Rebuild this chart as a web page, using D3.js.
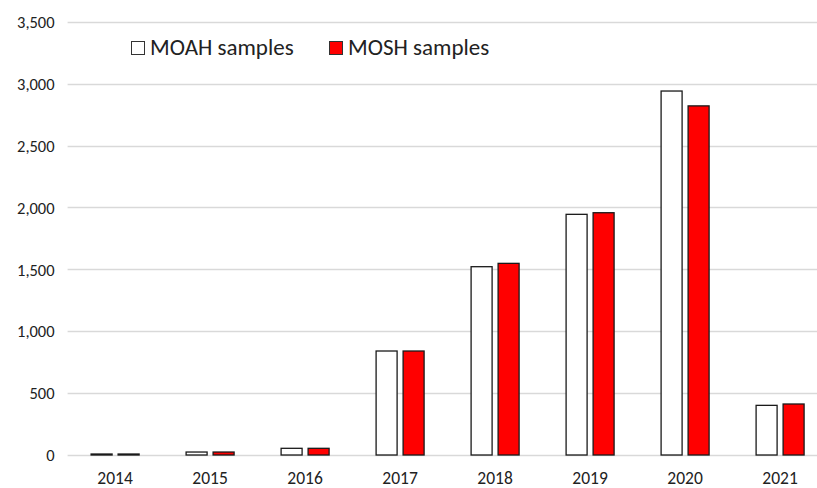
<!DOCTYPE html>
<html>
<head>
<meta charset="utf-8">
<script src="https://cdn.jsdelivr.net/npm/d3@7"></script>
<style>
  body { margin: 0; background: #fff; }
  text { font-family: Calibri, Carlito, Lato, "Open Sans", sans-serif; fill: #222; }
</style>
</head>
<body>
<div id="chart"></div>
<script>
// data
let years = ['2014', '2015', '2016', '2017', '2018', '2019', '2020', '2021'];
let moah_samples = [8, 24, 54, 840, 1521, 1944, 2940, 401];
let mosh_samples = [8, 24, 54, 840, 1548, 1957, 2820, 412];
let y_ticks = [0, 500, 1000, 1500, 2000, 2500, 3000, 3500];
let series = ['MOAH samples', 'MOSH samples'];
let colors = ['#ffffff', '#ff0000'];

let svg_width = 817;
let svg_height = 488;

let margin = { top: 21.7, left: 67.6, bottom: 33 };
let band = 95;

let svg = d3.select('#chart').append('svg')
  .attr('width', svg_width)
  .attr('height', svg_height);

let x = d3.scaleBand()
  .domain(years)
  .range([margin.left, margin.left + band * years.length])
  .padding(0);

let xInner = d3.scaleBand()
  .domain(series)
  .range([(band - 48) / 2, (band + 48) / 2])
  .paddingInner(6 / 27)
  .paddingOuter(0);

let y = d3.scaleLinear()
  .domain([0, 3500])
  .range([svg_height - margin.bottom, margin.top]);

// gridlines
svg.append('g')
  .selectAll('line')
  .data(y_ticks)
  .enter()
  .append('line')
  .attr('x1', margin.left)
  .attr('x2', svg_width)
  .attr('y1', d => Math.round(y(d)) + 0.5)
  .attr('y2', d => Math.round(y(d)) + 0.5)
  .attr('stroke', '#d9d9d9')
  .attr('stroke-width', 1.3);

// y axis labels
let yAxis = svg.append('g')
  .attr('transform', `translate(${margin.left - 13}, 0)`)
  .call(d3.axisLeft(y).tickValues(y_ticks).tickSize(0).tickFormat(d3.format(',')));
yAxis.select('.domain').remove();
yAxis.selectAll('text')
  .attr('x', 0)
  .attr('dy', '0.35em')
  .style('font-size', '16.5px')
  .style('font-family', 'Calibri, Carlito, Lato, sans-serif')
  .attr('fill', '#222');

// x axis labels
let xAxis = svg.append('g')
  .attr('transform', `translate(0, ${y(0)})`)
  .call(d3.axisBottom(x).tickSize(0));
xAxis.select('.domain').remove();
xAxis.selectAll('text')
  .attr('y', 17)
  .attr('dy', '0.71em')
  .style('font-size', '17.5px')
  .style('font-family', 'Calibri, Carlito, Lato, sans-serif')
  .attr('fill', '#222');

// bars
let rows = years.map((yr, i) => ({ year: yr, values: [moah_samples[i], mosh_samples[i]] }));

let groups = svg.append('g')
  .selectAll('g')
  .data(rows)
  .enter()
  .append('g')
  .attr('transform', d => `translate(${x(d.year)}, 0)`);

groups.selectAll('rect')
  .data(d => d.values.map((v, j) => ({ key: series[j], value: v, color: colors[j] })))
  .enter()
  .append('rect')
  .attr('x', d => xInner(d.key))
  .attr('y', d => y(d.value))
  .attr('width', xInner.bandwidth())
  .attr('height', d => y(0) - y(d.value))
  .attr('fill', d => d.color)
  .attr('stroke', '#1a1a1a')
  .attr('stroke-width', 1.3);

// legend
let legendPos = [131, 329];
let legend = svg.append('g');
series.forEach(function(s, i) {
  legend.append('rect')
    .attr('x', legendPos[i] + 0.5)
    .attr('y', 41.5)
    .attr('width', 13)
    .attr('height', 13)
    .attr('fill', colors[i])
    .attr('stroke', '#333')
    .attr('stroke-width', 1);
  legend.append('text')
    .attr('x', legendPos[i] + 19)
    .attr('y', 55)
    .style('font-size', '23px')
    .text(s);
});
</script>
</body>
</html>
